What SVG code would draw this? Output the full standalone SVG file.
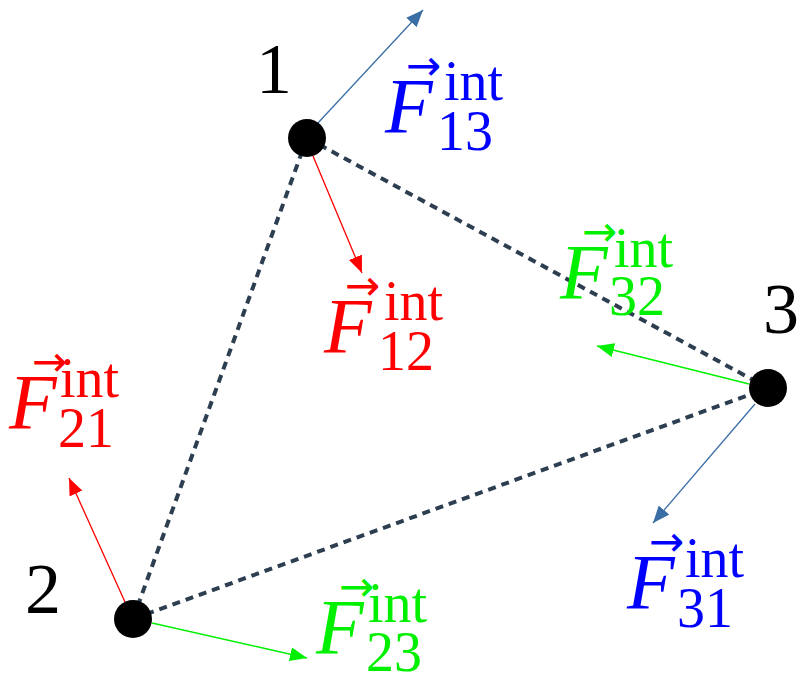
<svg xmlns="http://www.w3.org/2000/svg" width="800" height="679" viewBox="0 0 800 679">
<style>
.bond{stroke:#2c3e50;stroke-width:4;stroke-dasharray:8 6;fill:none}
.f{stroke-width:1.3;fill:none}
.num{font-family:"Liberation Serif",serif;font-size:72px;fill:#000}
.F{font-family:"Liberation Serif",serif;font-style:italic;font-size:78px}
.sc{font-family:"Liberation Serif",serif;font-size:56px}
.vec{font-family:"DejaVu Sans",sans-serif;font-size:42px}
.blue{fill:#0000ff}.red{fill:#ff0000}.green{fill:#00f000}
</style>
<defs>
<marker id="ah-steel" markerUnits="userSpaceOnUse" markerWidth="18" markerHeight="14" refX="17" refY="7" orient="auto"><path d="M0,0 L17,7 L0,14 Z" fill="#3a6ea5"/></marker>
<marker id="ah-red" markerUnits="userSpaceOnUse" markerWidth="18" markerHeight="14" refX="17" refY="7" orient="auto"><path d="M0,0 L17,7 L0,14 Z" fill="#ff0000"/></marker>
<marker id="ah-green" markerUnits="userSpaceOnUse" markerWidth="18" markerHeight="14" refX="17" refY="7" orient="auto"><path d="M0,0 L17,7 L0,14 Z" fill="#00f000"/></marker>
</defs>
<rect width="800" height="679" fill="#fff"/>
<g id="connectors">
<line class="bond" x1="307" y1="138" x2="768" y2="388"/>
<line class="bond" x1="307" y1="138" x2="133" y2="619"/>
<line class="bond" x1="133" y1="619" x2="768" y2="388"/>
<line class="f" stroke="#3a6ea5" x1="317" y1="124" x2="423" y2="10" marker-end="url(#ah-steel)"/>
<line class="f" stroke="#ff0000" x1="313" y1="156" x2="362" y2="273" marker-end="url(#ah-red)"/>
<line class="f" stroke="#00f000" x1="749" y1="384" x2="597" y2="346" marker-end="url(#ah-green)"/>
<line class="f" stroke="#3a6ea5" x1="755" y1="404" x2="653" y2="523" marker-end="url(#ah-steel)"/>
<line class="f" stroke="#ff0000" x1="125" y1="602" x2="69" y2="478" marker-end="url(#ah-red)"/>
<line class="f" stroke="#00f000" x1="152" y1="623" x2="307" y2="658" marker-end="url(#ah-green)"/>
</g>
<g id="node-1"><circle cx="307" cy="138" r="19"/><text class="num" x="256" y="93">1</text></g>
<g id="node-2"><circle cx="133" cy="619" r="19"/><text class="num" x="25" y="613">2</text></g>
<g id="node-3"><circle cx="768" cy="388" r="19"/><text class="num" x="763" y="333">3</text></g>
<g id="label-F13" class="blue">
<text class="vec" x="406" y="80">→</text>
<text class="F" x="385" y="132">F</text>
<text class="sc" x="444" y="100">int</text>
<text class="sc" x="437" y="150">13</text>
</g>
<g id="label-F12" class="red">
<text class="vec" x="345" y="300">→</text>
<text class="F" x="324" y="352">F</text>
<text class="sc" x="384" y="320">int</text>
<text class="sc" x="378" y="370">12</text>
</g>
<g id="label-F32" class="green">
<text class="vec" x="582" y="246">→</text>
<text class="F" x="560" y="298">F</text>
<text class="sc" x="614" y="267">int</text>
<text class="sc" x="609" y="315">32</text>
</g>
<g id="label-F31" class="blue">
<text class="vec" x="649" y="556">→</text>
<text class="F" x="627" y="608">F</text>
<text class="sc" x="685" y="577">int</text>
<text class="sc" x="677" y="627">31</text>
</g>
<g id="label-F21" class="red">
<text class="vec" x="32" y="376">→</text>
<text class="F" x="9" y="428">F</text>
<text class="sc" x="60" y="397">int</text>
<text class="sc" x="58" y="447">21</text>
</g>
<g id="label-F23" class="green">
<text class="vec" x="339" y="601">→</text>
<text class="F" x="316" y="653">F</text>
<text class="sc" x="368" y="622">int</text>
<text class="sc" x="366" y="671">23</text>
</g>
</svg>
